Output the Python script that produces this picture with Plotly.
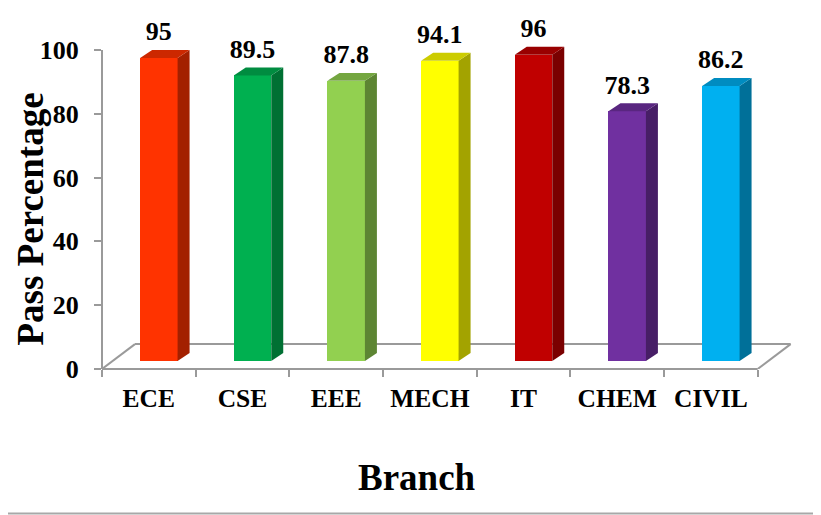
import plotly.graph_objects as go

# ---- data ----
branches = ["ECE", "CSE", "EEE", "MECH", "IT", "CHEM", "CIVIL"]
pass_pct = [95, 89.5, 87.8, 94.1, 96, 78.3, 86.2]
front_colors = ["#FF3300", "#00B050", "#92D050", "#FFFF00", "#C00000", "#7030A0", "#00B0F0"]
y_ticks = [0, 20, 40, 60, 80, 100]

# ---- pseudo-3D geometry (in axis units) ----
BAR_SHIFT = 0.107   # front face shifted right (depth)
BAR_W = 0.40        # front face width
SIDE_DX = 0.128     # side depth (x)
SIDE_DY = 2.5       # side depth (y)
BASE = 2.5          # bar base lifted (depth)
FLOOR_DX = 0.352
FLOOR_DY = 7.8
GRAY = "#9a9a9a"
FONT = "Liberation Serif, Times New Roman, serif"


def shade(hex_color, f):
    h = hex_color.lstrip("#")
    r, g, b = (int(h[i:i + 2], 16) for i in (0, 2, 4))
    return "rgb(%d,%d,%d)" % (r * f, g * f, b * f)


W, H = 821, 515
PAGE = 8  # default page margin of the html body
pw, ph = 698, 351
L, T = 102 - PAGE, 18 - PAGE
R, B = W - L - pw, H - T - ph


def px_x(px):  # window pixel -> paper x
    return (px - PAGE - L) / pw


def px_y(py):  # window pixel -> paper y
    return 1 - (py - PAGE - T) / ph


fig = go.Figure()
xs = list(range(len(branches)))

# side and top faces
for i, v, c in zip(xs, pass_pct, front_colors):
    left = i + BAR_SHIFT - BAR_W / 2
    right = i + BAR_SHIFT + BAR_W / 2
    top = BASE + v
    fig.add_trace(go.Scatter(
        x=[right, right + SIDE_DX, right + SIDE_DX, right, right],
        y=[BASE, BASE + SIDE_DY, top + SIDE_DY, top, BASE],
        fill="toself", fillcolor=shade(c, 0.64), mode="lines",
        line=dict(width=0, color=shade(c, 0.64)), hoverinfo="skip", showlegend=False))
    fig.add_trace(go.Scatter(
        x=[left, left + SIDE_DX, right + SIDE_DX, right, left],
        y=[top, top + SIDE_DY, top + SIDE_DY, top, top],
        fill="toself", fillcolor=shade(c, 0.80), mode="lines",
        line=dict(width=0, color=shade(c, 0.80)), hoverinfo="skip", showlegend=False))

# front faces
fig.add_trace(go.Bar(
    x=[i + BAR_SHIFT for i in xs], y=pass_pct, base=BASE, width=BAR_W,
    marker=dict(color=front_colors, line=dict(width=0)), showlegend=False))

# value labels
fig.add_trace(go.Scatter(
    x=[i + BAR_SHIFT for i in xs], y=[BASE + v + SIDE_DY + 1.0 for v in pass_pct],
    mode="text", text=[("%g" % v) for v in pass_pct], textposition="top center",
    textfont=dict(family=FONT, size=26, color="black", weight="bold"),
    cliponaxis=False, showlegend=False, hoverinfo="skip"))

n = len(branches)
x0, x1 = -0.5, n - 0.5
shapes = [
    # y axis line
    dict(type="line", xref="paper", yref="y", x0=0, x1=0, y0=0, y1=max(y_ticks),
         line=dict(color=GRAY, width=2), layer="below"),
    # floor front
    dict(type="line", xref="x", yref="paper", x0=x0, x1=x1, y0=0, y1=0,
         line=dict(color=GRAY, width=2), layer="below"),
    # floor left diagonal
    dict(type="line", xref="x", yref="y", x0=x0, x1=x0 + FLOOR_DX, y0=0, y1=FLOOR_DY,
         line=dict(color=GRAY, width=2), layer="below"),
    # floor back
    dict(type="line", xref="x", yref="y", x0=x0 + FLOOR_DX, x1=x1 + FLOOR_DX, y0=FLOOR_DY, y1=FLOOR_DY,
         line=dict(color=GRAY, width=2), layer="below"),
    # floor right diagonal
    dict(type="line", xref="x", yref="y", x0=x1, x1=x1 + FLOOR_DX, y0=0, y1=FLOOR_DY,
         line=dict(color=GRAY, width=2), layer="below"),
    # bottom border line of the image
    dict(type="line", xref="paper", yref="paper", x0=px_x(0) - 0.05, x1=px_x(W) + 0.05,
         y0=px_y(513.5), y1=px_y(513.5), line=dict(color="#a8a8a8", width=2)),
]

fig.update_layout(
    width=W, height=H,
    margin=dict(l=L, r=R, t=T, b=B),
    paper_bgcolor="white", plot_bgcolor="white",
    shapes=shapes,
    xaxis=dict(range=[x0, x1 + FLOOR_DX + 0.1], tickmode="array", tickvals=xs, ticktext=branches,
               showgrid=False, zeroline=False, showline=False, ticks="",
               ticklabelstandoff=11,
               tickfont=dict(family=FONT, size=25.5, color="black", weight="bold"),
               minor=dict(tickmode="array", tickvals=[k - 0.5 for k in range(n + 1)],
                          ticks="outside", ticklen=7, tickwidth=2, tickcolor=GRAY, showgrid=False)),
    yaxis=dict(range=[0, 110], tickmode="array", tickvals=y_ticks,
               showgrid=False, zeroline=False, showline=False,
               ticks="outside", ticklen=7, tickwidth=2, tickcolor=GRAY,
               ticklabelstandoff=10,
               tickfont=dict(family=FONT, size=26, color="black", weight="bold")),
    annotations=[
        dict(text="Pass Percentage", xref="paper", yref="paper",
             x=px_x(29.5), y=px_y(219), textangle=-90, showarrow=False,
             xanchor="center", yanchor="middle",
             font=dict(family=FONT, size=37, color="black", weight="bold")),
        dict(text="Branch", xref="paper", yref="paper",
             x=px_x(417), y=px_y(477), showarrow=False,
             xanchor="center", yanchor="middle",
             font=dict(family=FONT, size=37, color="black", weight="bold")),
    ],
    bargap=0,
)

fig.write_html("out.html")
